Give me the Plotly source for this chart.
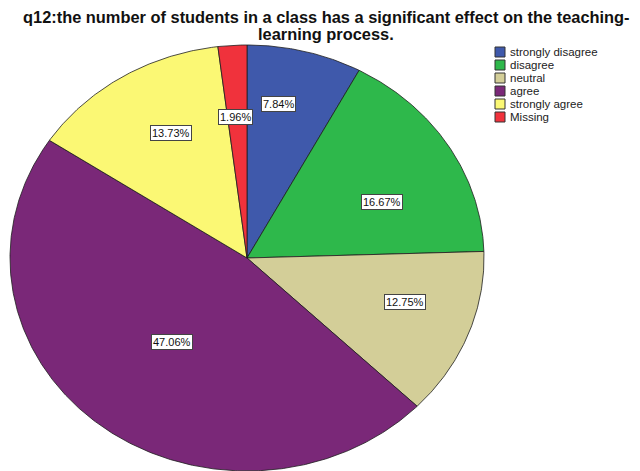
import numpy as np
import plotly.graph_objects as go

# Survey responses for q12
categories = ["strongly disagree", "disagree", "neutral", "agree", "strongly agree", "Missing"]
counts = [8, 17, 13, 48, 14, 2]
colors = ["#3F59AB", "#2EB84B", "#D3CE98", "#7A2878", "#FBF874", "#F0323C"]

title_lines = [
    "q12:the number of students in a class has a significant effect on the teaching-",
    "learning process.",
]

# Label placement tweaks (degrees along the slice, fraction of radius)
label_angle_shift = [-3.8, 7.0, -4.0, 0.0, 3.0, -0.5]
label_radius = [0.735, 0.628, 0.698, 0.508, 0.669, 0.664]

W, H = 640, 471
cx, cy, rx, ry = 247, 258, 237, 213

total = sum(counts)
shares = [c / total * 100 for c in counts]

fig = go.Figure()

start = 0.0
mids = []
for cat, share, col in zip(categories, shares, colors):
    span = share / 100 * 360
    ang = np.radians(np.linspace(start, start + span, max(int(span * 2), 2) + 1))
    xs = np.concatenate([[cx], cx + rx * np.sin(ang), [cx]])
    ys = np.concatenate([[cy], cy - ry * np.cos(ang), [cy]])
    fig.add_trace(go.Scatter(
        x=xs, y=ys, mode="lines", fill="toself", fillcolor=col,
        line=dict(color="#1e1e1e", width=0.8), name=cat,
        hoverinfo="name", showlegend=False,
    ))
    mids.append(start + span / 2)
    start += span

annotations = []
for mid, share, dshift, rf in zip(mids, shares, label_angle_shift, label_radius):
    a = np.radians(mid + dshift)
    annotations.append(dict(
        x=cx + rf * rx * np.sin(a), y=cy - rf * ry * np.cos(a),
        text=f"{share:.2f}%", showarrow=False,
        font=dict(family="Liberation Sans, Arial, sans-serif", size=11, color="#111"),
        bgcolor="white", bordercolor="#444", borderwidth=1, borderpad=1,
    ))

# Title
for i, line in enumerate(title_lines):
    annotations.append(dict(
        x=326, y=17 + 17 * i, text=f"<b>{line}</b>", showarrow=False,
        xanchor="center", yanchor="middle", borderpad=0,
        font=dict(family="Liberation Sans, Arial, sans-serif", size=16.4, color="#111"),
    ))

# Legend drawn as swatches with text
shapes = []
for i, (cat, col) in enumerate(zip(categories, colors)):
    yc = 52 + 13 * i
    shapes.append(dict(type="rect", x0=495, x1=505, y0=yc - 5, y1=yc + 5,
                       fillcolor=col, line=dict(color="#333", width=1)))
    annotations.append(dict(
        x=508, y=yc, text=cat, showarrow=False, xanchor="left", yanchor="middle",
        font=dict(family="Liberation Sans, Arial, sans-serif", size=11.5, color="#222"),
    ))

fig.update_layout(
    width=W, height=H, margin=dict(l=0, r=0, t=0, b=0),
    paper_bgcolor="white", plot_bgcolor="white",
    xaxis=dict(range=[0, W], visible=False, fixedrange=True),
    yaxis=dict(range=[H, 0], visible=False, fixedrange=True),
    annotations=annotations, shapes=shapes, showlegend=False,
)

fig.write_html("out.html")
